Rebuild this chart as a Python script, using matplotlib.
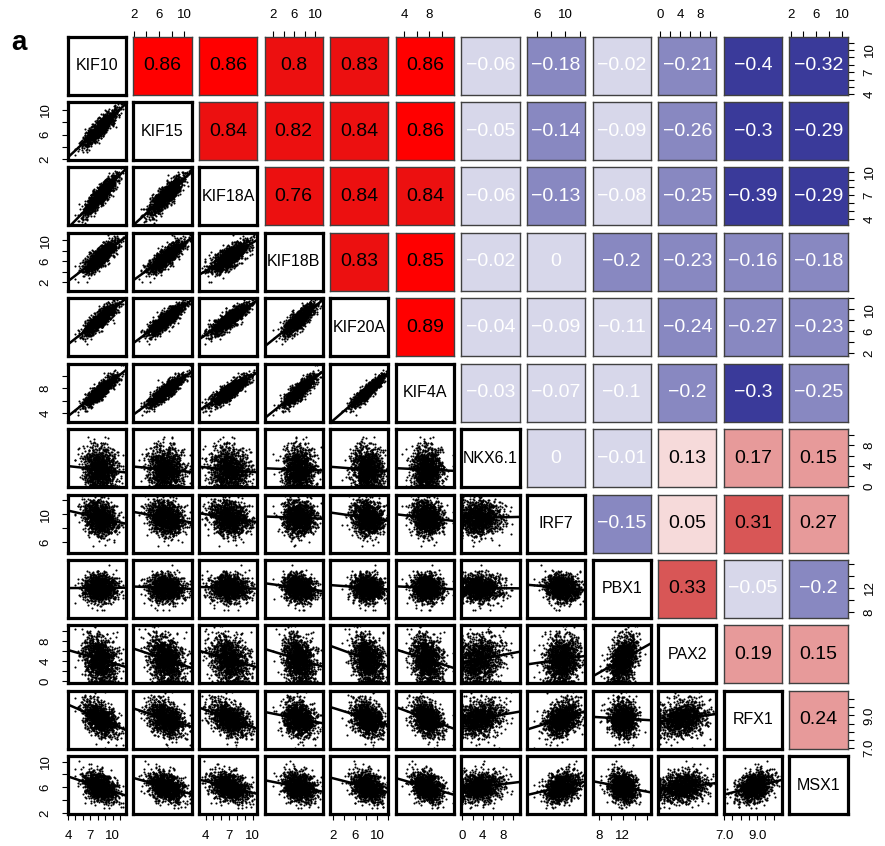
import numpy as np
import matplotlib
matplotlib.use("Agg")
import matplotlib.pyplot as plt

plt.rcParams["font.family"] = ["Liberation Sans", "DejaVu Sans"]

genes = ["KIF10", "KIF15", "KIF18A", "KIF18B", "KIF20A", "KIF4A",
         "NKX6.1", "IRF7", "PBX1", "PAX2", "RFX1", "MSX1"]

# Pearson r printed in the upper panels (row i, columns i+1..)
upper = [
    [0.86, 0.86, 0.8, 0.83, 0.86, -0.06, -0.18, -0.02, -0.21, -0.4, -0.32],
    [0.84, 0.82, 0.84, 0.86, -0.05, -0.14, -0.09, -0.26, -0.3, -0.29],
    [0.76, 0.84, 0.84, -0.06, -0.13, -0.08, -0.25, -0.39, -0.29],
    [0.83, 0.85, -0.02, 0, -0.2, -0.23, -0.16, -0.18],
    [0.89, -0.04, -0.09, -0.11, -0.24, -0.27, -0.23],
    [-0.03, -0.07, -0.1, -0.2, -0.3, -0.25],
    [0, -0.01, 0.13, 0.17, 0.15],
    [-0.15, 0.05, 0.31, 0.27],
    [0.33, -0.05, -0.2],
    [0.19, 0.15],
    [0.24],
]

# per-gene expression centre / spread
means = [8.3, 7.1, 7.0, 6.9, 8.2, 7.6, 3.2, 9.5, 12.0, 4.5, 8.8, 6.0]
sds = [1.1, 1.4, 1.2, 1.5, 1.4, 1.2, 2.2, 1.2, 1.1, 2.3, 0.5, 1.1]
floor_zero = ["NKX6.1", "PAX2"]

lims = [(3.95, 11.8), (1.9, 11.2), (3.15, 10.55), (0.4, 11.4), (1.4, 12.0),
        (2.6, 11.95), (-0.2, 11.2), (4.55, 12.8), (7.0, 16.6), (-0.4, 11.2),
        (6.97, 10.5), (1.8, 10.85)]
ticks = [list(range(4, 12)), [2, 4, 6, 8, 10], list(range(4, 11)),
         [2, 4, 6, 8, 10], [2, 4, 6, 8, 10, 12], [4, 6, 8, 10],
         [0, 2, 4, 6, 8, 10], [6, 8, 10, 12], [8, 10, 12, 14, 16],
         [0, 2, 4, 6, 8, 10], [7.0, 7.5, 8.0, 8.5, 9.0, 9.5, 10.0],
         [2, 4, 6, 8, 10]]
tick_labels = [["4", "7", "10"], ["2", "6", "10"], ["4", "7", "10"],
               ["2", "6", "10"], ["2", "6", "10"], ["4", "8"],
               ["0", "4", "8"], ["6", "10"], ["8", "12"], ["0", "4", "8"],
               ["7.0", "9.0"], ["2", "6", "10"]]

bin_edges = [-0.28, -0.12, 0.0, 0.14, 0.28, 0.5, 0.85]
bin_colors = ["#3a3a9a", "#8888c1", "#d7d7ea", "#f6dada", "#e79a9a",
              "#d85656", "#ec1010", "#ff0000"]

n = len(genes)
R = np.eye(n)
for i, row in enumerate(upper):
    for k, v in enumerate(row):
        R[i, i + 1 + k] = R[i + 1 + k, i] = v
w, V = np.linalg.eigh(R)
R = V @ np.diag(np.clip(w, 1e-3, None)) @ V.T
dd = np.sqrt(np.diag(R))
R = R / np.outer(dd, dd)

# point cloud stand-in (individual points cannot be read from the figure)
rng = np.random.default_rng(7)
z = rng.standard_normal((1300, n)) @ np.linalg.cholesky(R).T
data = z * np.array(sds) + np.array(means)
for g in floor_zero:
    k = genes.index(g)
    data[:, k] = np.clip(data[:, k], 0, None)


def fmt(v):
    return f"{v:g}".replace("-", "\u2212")


def rcolor(v):
    k = 0
    while k < len(bin_edges) and (v > bin_edges[k] if bin_edges[k] <= 0 else v >= bin_edges[k]):
        k += 1
    return bin_colors[k]


def label_list(k):
    shown = {float(s): s for s in tick_labels[k]}
    return [shown.get(float(t), "") for t in ticks[k]]


W, H = 885, 846
x0, y0, dx, dy, pw, ph = 67.7, 36.7, 65.6, 65.4, 58.3, 58.0
fig = plt.figure(figsize=(W / 100, H / 100), dpi=100)

for i in range(n):
    for j in range(n):
        ax = fig.add_axes([(x0 + j * dx) / W, 1 - (y0 + i * dy + ph) / H, pw / W, ph / H])
        ax.set_xlim(lims[j])
        ax.set_ylim(lims[i])
        ax.set_xticks([])
        ax.set_yticks([])
        if i < j:
            v = upper[i][j - i - 1]
            ax.set_facecolor(rcolor(v))
            ax.text(0.5, 0.5, fmt(v), transform=ax.transAxes, ha="center", va="center",
                    fontsize=14, color="white" if v <= 0 else "black")
            for s in ax.spines.values():
                s.set_linewidth(1.0)
                s.set_color("#404040")
        else:
            if i == j:
                ax.text(0.5, 0.5, genes[i], transform=ax.transAxes, ha="center",
                        va="center", fontsize=11.5)
            else:
                xs, ys = data[:, j], data[:, i]
                ax.plot(xs, ys, "o", color="black", ms=1.5, mew=0)
                b, a = np.polyfit(xs, ys, 1)
                xx = np.array(lims[j])
                ax.plot(xx, a + b * xx, color="black", lw=1.8)
            for s in ax.spines.values():
                s.set_linewidth(2.3)
                s.set_color("black")

        tkw = dict(length=4.5, width=0.8, labelsize=9.5, pad=7, direction="out")
        if i == 0 and j % 2 == 1:
            ax.xaxis.tick_top()
            ax.set_xticks(ticks[j], label_list(j))
            ax.tick_params(axis="x", top=True, bottom=False, **tkw)
        if i == n - 1 and j % 2 == 0:
            ax.set_xticks(ticks[j], label_list(j))
            ax.tick_params(axis="x", **tkw)
        if j == 0 and i % 2 == 1:
            ax.set_yticks(ticks[i], label_list(i))
            ax.tick_params(axis="y", **tkw)
            for t in ax.get_yticklabels():
                t.set_rotation(90)
                t.set_va("center")
        if j == n - 1 and i % 2 == 0:
            ax.yaxis.tick_right()
            ax.set_yticks(ticks[i], label_list(i))
            ax.tick_params(axis="y", right=True, left=False, **tkw)
            for t in ax.get_yticklabels():
                t.set_rotation(90)
                t.set_va("center")

fig.text(19 / W, 1 - 50 / H, "a", fontsize=20, fontweight="bold", ha="center", va="baseline")
fig.savefig("out.png", dpi=100)
